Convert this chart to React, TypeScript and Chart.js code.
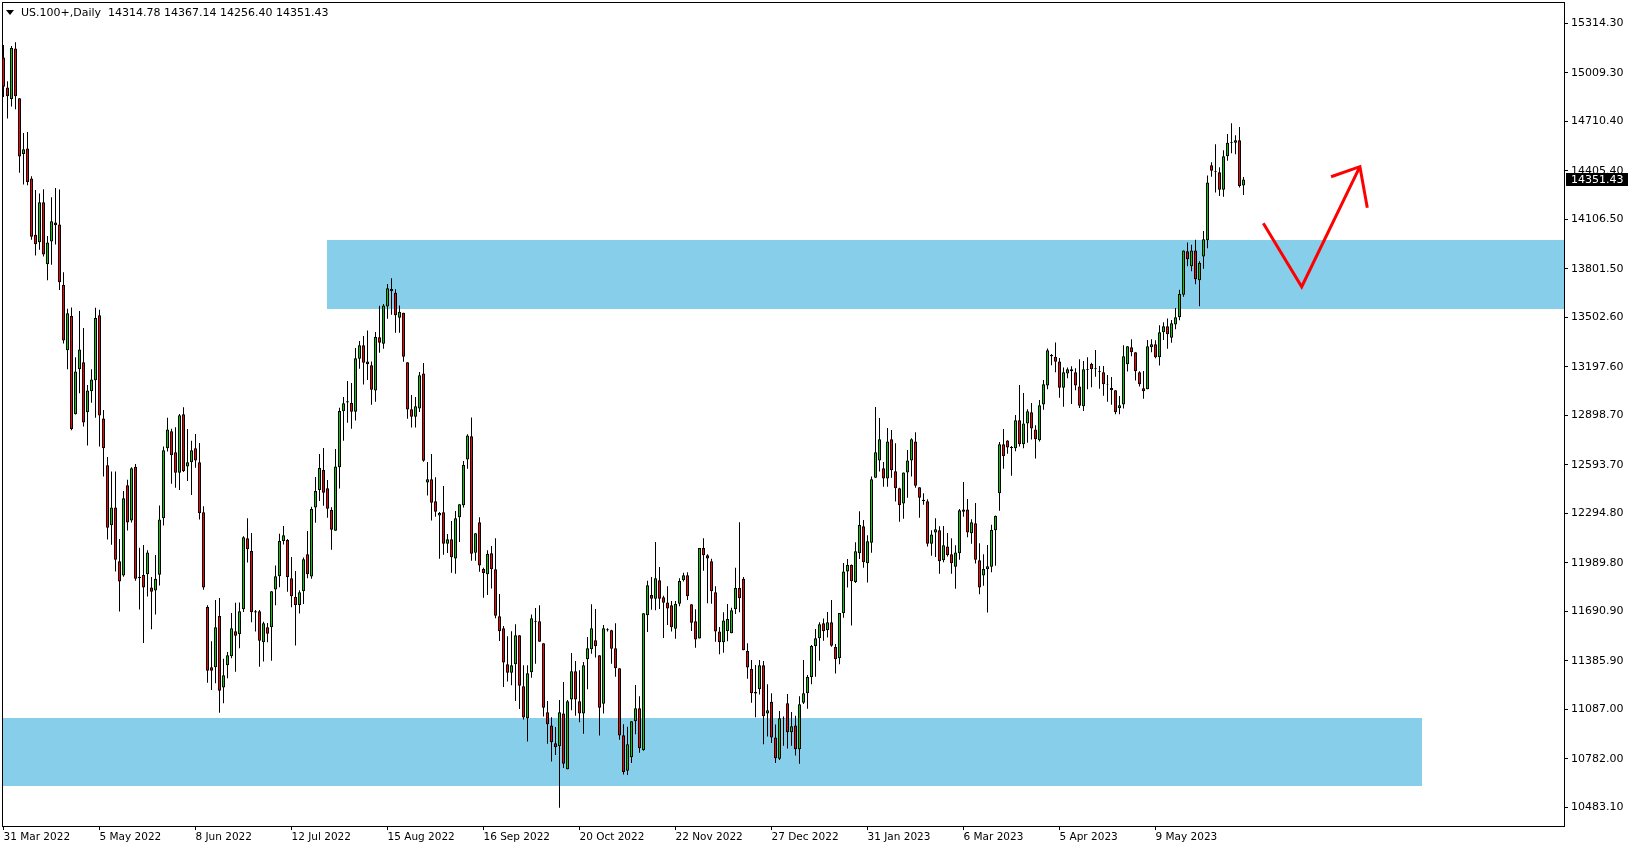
import React, { useEffect, useRef } from "react";
import { Chart, registerables } from "chart.js";

Chart.register(...registerables);

const symbolName = "US.100+,Daily";

const opens = [
  15103,14918,14848,15159,14852,14509,14543,14358,14012,13965,
  14212,13829,13970,14087,14075,13702,13300,13510,12906,13183,
  13225,12918,13047,13115,13515,12879,12591,12221,12330,11999,
  11911,12467,12250,12581,11894,11914,11919,11838,11819,11916,
  12264,12695,12800,12671,12545,12905,12584,12609,12695,12609,
  12301,11718,11346,11346,11662,11221,11358,11414,11568,11549,
  11703,12141,12063,11692,11691,11500,11592,11592,11826,11907,
  12124,12130,11894,11779,11730,11814,12042,11905,12330,12438,
  12562,12449,12315,12188,12578,12923,12985,12975,12921,13248,
  13330,13231,13207,13051,13379,13340,13570,13677,13654,13500,
  13531,13225,12936,12890,12940,13157,12484,12504,12369,12282,
  12301,12108,12135,12017,12270,12344,12627,12769,12052,12239,
  11952,11919,12048,11950,11660,11586,11364,11313,11364,11543,
  11229,11032,11315,11633,11629,11494,11069,10988,10878,10859,
  11062,10717,11147,11321,11136,11062,11395,11457,11512,11420,
  11122,11580,11574,11463,11340,10927,10709,10791,11013,11093,
  10836,11666,11792,11769,11882,11777,11746,11728,11584,11738,
  11882,11913,11734,11629,11524,12081,12036,11999,11808,11566,
  11500,11570,11555,11703,11835,11892,11446,11336,11194,11210,
  11358,11062,11134,10914,10783,11030,11124,10945,10988,10841,
  11128,11186,11286,11477,11525,11617,11574,11623,11471,11401,
  11681,11937,11976,11872,12048,12215,11987,12114,12514,12621,
  12572,12510,12751,12554,12449,12356,12547,12621,12738,12455,
  12378,12369,12108,12176,12190,12005,12091,12042,11966,12048,
  12305,12319,12172,12233,12005,11911,11950,11966,12190,12418,
  12720,12744,12703,12695,12868,12720,12849,12917,12812,12745,
  12966,13083,13270,13260,13231,13069,13157,13182,13164,13077,
  12954,13180,13215,13188,13170,13164,13092,13067,13053,12942,
  12966,13213,13318,13287,13164,13065,13059,13318,13336,13256,
  13410,13447,13377,13459,13503,13642,13909,13817,13915,13731,
  13878,13977,14439,14404,14396,14289,14495,14577,14579,14593,
  14314.78,
];

const highs = [
  15181,14957,15174,15198,14852,14638,14645,14372,14287,14265,
  14292,14004,14243,14299,14290,13780,13556,13563,13256,13541,
  13437,13086,13183,13561,13549,12932,12642,12552,12552,12136,
  12433,12501,12579,12599,12082,12099,12067,11902,12038,12343,
  12706,12884,12816,12825,12907,12948,12814,12742,12784,12728,
  12338,11728,11506,11761,11773,11399,11440,11681,11744,11746,
  12153,12264,12174,11699,11699,11627,11619,11814,11974,12169,
  12217,12137,12026,11939,11820,12022,12186,12336,12519,12660,
  12697,12500,12332,12691,12946,13012,13110,13098,13314,13357,
  13387,13422,13231,13412,13574,13585,13708,13743,13675,13576,
  13531,13225,13024,13012,13166,13221,12611,12660,12517,12303,
  12463,12167,12247,12309,12350,12617,12782,12886,12172,12270,
  11960,12067,12094,12141,11798,11601,11537,11568,11611,11543,
  11358,11358,11672,11711,11728,11494,11138,11038,10978,11145,
  11255,11144,11434,11385,11327,11379,11533,11734,11705,11420,
  11607,11586,11578,11617,11340,10995,10980,11013,11237,11167,
  11679,11880,11902,12118,11964,11787,11845,11755,11755,11894,
  11929,11931,11734,11703,12081,12141,12042,12015,11845,11594,
  11685,11736,11713,11960,12240,11902,11494,11391,11360,11391,
  11385,11241,11186,10993,11077,11042,11182,11071,11048,11167,
  11391,11299,11483,11582,11623,11646,11687,11761,11490,11681,
  11989,12013,11980,12116,12307,12254,12159,12521,12950,12882,
  12611,12821,12808,12726,12453,12547,12685,12757,12794,12455,
  12418,12381,12190,12264,12215,12217,12174,12141,12098,12321,
  12488,12383,12258,12358,12110,12042,12100,12225,12282,12734,
  12814,12745,12710,12901,13086,13036,12936,12975,12837,12993,
  13116,13311,13277,13348,13252,13194,13194,13201,13188,13244,
  13233,13256,13223,13301,13203,13203,13147,13135,13053,13018,
  13330,13324,13367,13287,13170,13172,13363,13367,13361,13453,
  13472,13496,13486,13560,13673,13915,13963,13950,13981,13848,
  14035,14376,14458,14569,14427,14532,14632,14698,14624,14675,
  14367.14,
];

const lows = [
  14860,14728,14801,14784,14394,14321,14316,13980,13883,13919,
  13878,13731,13827,13951,13671,13342,13183,12806,12903,13035,
  12830,12713,12976,12884,12706,12521,12133,12101,11936,11690,
  11904,12189,12238,11880,11702,11495,11782,11580,11672,11850,
  12219,12675,12477,12453,12438,12549,12494,12408,12576,12256,
  11824,11251,11206,11247,11066,11124,11278,11401,11319,11463,
  11687,11991,11623,11566,11350,11381,11500,11387,11728,11839,
  12102,11812,11716,11481,11677,11736,11894,11892,12237,12371,
  12342,12268,12071,12188,12447,12742,12853,12816,12866,13186,
  13088,13116,12964,12983,13285,13309,13494,13519,13408,13408,
  13229,12878,12823,12823,12919,12613,12404,12250,12274,12015,
  12040,12050,11929,11923,12118,12330,12570,12003,12003,11935,
  11775,11792,11831,11648,11508,11225,11258,11235,11138,11089,
  11025,10888,11282,11368,11504,11042,10875,10765,10806,10480,
  10726,10717,11081,11048,11007,10937,11210,11430,11407,10925,
  11062,11566,11368,11288,10900,10685,10682,10756,10933,10820,
  10832,11564,11701,11697,11705,11527,11607,11566,11522,11722,
  11874,11761,11570,11467,11524,11941,11740,11738,11504,11426,
  11436,11506,11555,11674,11685,11451,11276,11128,11038,11179,
  10871,10919,10880,10756,10775,10863,10845,10863,10802,10752,
  11120,11091,11241,11288,11387,11510,11529,11473,11307,11364,
  11652,11837,11603,11865,12013,11960,11868,12052,12514,12552,
  12459,12459,12514,12367,12243,12262,12391,12521,12453,12268,
  12348,12091,12034,12026,11923,11993,12028,11923,11830,12009,
  12274,12147,12108,11985,11796,11849,11683,11931,11972,12311,
  12570,12662,12527,12677,12706,12695,12730,12749,12632,12738,
  12933,13059,13207,13164,13007,12952,13127,12968,13053,12944,
  12925,13059,13071,13137,13063,13020,12983,12964,12905,12905,
  12940,13168,13262,13114,13077,13001,13059,13287,13250,13205,
  13363,13309,13346,13429,13484,13630,13817,13786,13706,13570,
  13802,13928,14369,14271,14250,14246,14468,14513,14507,14302,
  14256.40,
];

const closes = [
  14923,14865,15162,14865,14494,14538,14336,13999,13953,14212,
  13890,13963,14095,14070,13719,13359,13527,12815,13169,13305,
  12854,13052,13120,13498,12898,12696,12206,12330,12009,11875,
  12387,12238,12572,11892,11904,11838,12053,11811,11892,12257,
  12683,12812,12652,12545,12899,12554,12609,12683,12621,12295,
  11837,11325,11325,11592,11202,11297,11420,11586,11541,11691,
  12147,12073,11685,11684,11510,11617,11553,11814,11907,12124,
  12159,11902,11783,11730,11808,12011,11919,12321,12432,12574,
  12422,12323,12194,12584,12925,12973,12978,12921,13250,13330,
  13223,13213,13057,13381,13346,13576,13681,13663,13515,13537,
  13260,12934,12890,12954,13145,12619,12504,12360,12305,12297,
  12108,12135,12024,12264,12350,12593,12775,12046,12172,11974,
  11927,12046,11950,11664,11568,11375,11313,11358,11543,11233,
  11036,11309,11648,11626,11504,11097,10995,10884,10853,11069,
  10752,11136,11321,11147,11062,11358,11463,11586,11475,11097,
  11586,11574,11461,11340,10925,10700,10871,11013,11093,10847,
  11679,11851,11769,11894,11769,11744,11709,11592,11738,11878,
  11913,11783,11621,11518,12081,12036,12017,11814,11566,11500,
  11635,11644,11697,11835,11771,11451,11344,11186,11184,11358,
  11044,11081,10914,10785,11032,11034,10945,10982,10841,11118,
  11186,11286,11477,11525,11611,11568,11623,11479,11395,11681,
  11937,11976,11876,12061,12223,11993,12122,12504,12671,12751,
  12510,12738,12560,12449,12344,12547,12621,12751,12465,12391,
  12370,12108,12165,12196,11999,12098,12038,11987,12054,12313,
  12319,12176,12239,12009,11837,11952,11968,12192,12278,12720,
  12646,12701,12697,12868,12720,12849,12923,12818,12751,12960,
  13090,13299,13262,13229,13069,13164,13182,13170,13083,12958,
  13182,13184,13182,13182,13166,13090,13088,13053,12917,12960,
  13262,13324,13287,13170,13090,13047,13324,13336,13256,13410,
  13447,13398,13466,13503,13646,13915,13860,13915,13737,13839,
  13983,14334,14406,14400,14289,14495,14579,14581,14593,14312,
  14351.43,
];

// x-axis date labels, one every 24 bars starting at bar 0
const xTickLabels = [
  "31 Mar 2022", "5 May 2022", "8 Jun 2022", "12 Jul 2022", "15 Aug 2022",
  "16 Sep 2022", "20 Oct 2022", "22 Nov 2022", "27 Dec 2022", "31 Jan 2023",
  "6 Mar 2023", "5 Apr 2023", "9 May 2023",
];
const xTickEvery = 24;

const yTickValues = [
  15314.3, 15009.3, 14710.4, 14405.4, 14106.5, 13801.5, 13502.6, 13197.6,
  12898.7, 12593.7, 12294.8, 11989.8, 11690.9, 11385.9, 11087.0, 10782.0, 10483.1,
];

// Support/resistance zones: bar index range and price range
const zoneFrom = [80.9, -5];
const zoneTo = [400, 354.7];
const zoneTop = [13979, 11035];
const zoneBottom = [13556, 10616];

// Hand-drawn arrow (bar index, price)
const arrowX = [314.95, 324.55, 339.1];
const arrowY = [14082, 13691, 14431];
const arrowHeadX = [331.9, 339.1, 340.95];
const arrowHeadY = [14369, 14431, 14178];

const FONT = "'DejaVu Sans', sans-serif";
const BULL = "#00CC00";
const BEAR = "#FF0000";
const ZONE = "#87CEEB";

const overlayPlugin = {
  id: "mt4overlay",
  beforeDatasetsDraw(chart: any) {
    const { ctx, chartArea: a, scales } = chart;
    const x = scales.x, y = scales.y;
    ctx.save();
    ctx.beginPath();
    ctx.rect(a.left, a.top, a.right - a.left, a.bottom - a.top);
    ctx.clip();
    ctx.fillStyle = ZONE;
    for (let k = 0; k < zoneFrom.length; k++) {
      const x1 = Math.round(x.getPixelForValue(zoneFrom[k]));
      const x2 = Math.round(x.getPixelForValue(zoneTo[k]));
      const y1 = Math.round(y.getPixelForValue(zoneTop[k]));
      const y2 = Math.round(y.getPixelForValue(zoneBottom[k]));
      ctx.fillRect(x1, y1, x2 - x1, y2 - y1);
    }
    ctx.restore();
  },
  afterDatasetsDraw(chart: any) {
    const { ctx, chartArea: a, scales } = chart;
    const x = scales.x, y = scales.y;
    ctx.save();
    ctx.beginPath();
    ctx.rect(a.left, a.top, a.right - a.left, a.bottom - a.top);
    ctx.clip();
    ctx.strokeStyle = "#FF0000";
    ctx.lineWidth = 3;
    ctx.lineJoin = "miter";
    ctx.lineCap = "butt";
    ctx.beginPath();
    arrowX.forEach((v, i) => {
      const px = x.getPixelForValue(v), py = y.getPixelForValue(arrowY[i]);
      if (i === 0) ctx.moveTo(px, py); else ctx.lineTo(px, py);
    });
    ctx.stroke();
    ctx.beginPath();
    arrowHeadX.forEach((v, i) => {
      const px = x.getPixelForValue(v), py = y.getPixelForValue(arrowHeadY[i]);
      if (i === 0) ctx.moveTo(px, py); else ctx.lineTo(px, py);
    });
    ctx.stroke();
    ctx.restore();
  },
  afterDraw(chart: any) {
    const { ctx, chartArea: a, scales } = chart;
    const y = scales.y;
    ctx.save();
    // frame
    ctx.strokeStyle = "#000";
    ctx.lineWidth = 1;
    ctx.strokeRect(a.left + 0.5, a.top + 0.5, a.right - a.left, a.bottom - a.top);
    // header
    ctx.fillStyle = "#000";
    ctx.beginPath();
    ctx.moveTo(6, 10);
    ctx.lineTo(14, 10);
    ctx.lineTo(10, 15);
    ctx.closePath();
    ctx.fill();
    const n = closes.length - 1;
    const header =
      symbolName + "  " + opens[n].toFixed(2) + " " + highs[n].toFixed(2) + " " +
      lows[n].toFixed(2) + " " + closes[n].toFixed(2);
    ctx.font = "11px " + FONT;
    ctx.textBaseline = "middle";
    ctx.textAlign = "left";
    ctx.fillText(header, 21, 13.5);
    // current price box
    const py = Math.round(y.getPixelForValue(closes[n]));
    ctx.fillStyle = "#000";
    ctx.fillRect(a.right + 2, py - 7, 62, 13);
    ctx.fillStyle = "#fff";
    ctx.fillText(closes[n].toFixed(2), a.right + 7, py);
    ctx.restore();
  },
};

export default function App() {
  const ref = useRef<HTMLCanvasElement>(null);

  useEffect(() => {
    const idx = closes.map((_, i) => i);
    const bodyData = idx.map((i) => ({ x: i, y: [opens[i], closes[i]] }));
    const wickData = idx.map((i) => ({ x: i, y: [lows[i], highs[i]] }));
    const bodyColors = idx.map((i) => (closes[i] >= opens[i] ? BULL : BEAR));

    const chart = new Chart(ref.current as HTMLCanvasElement, {
      type: "bar",
      data: {
        datasets: [
          {
            data: bodyData as any,
            backgroundColor: bodyColors,
            borderColor: "#000",
            borderWidth: 1,
            borderSkipped: false,
            barThickness: 3,
            grouped: false,
            inflateAmount: 0,
            order: 0,
          } as any,
          {
            data: wickData as any,
            backgroundColor: "#000",
            borderWidth: 0,
            barThickness: 1,
            grouped: false,
            inflateAmount: 0,
            order: 1,
          } as any,
        ],
      },
      options: {
        animation: false,
        responsive: false,
        maintainAspectRatio: false,
        events: [],
        layout: { padding: { left: 2, top: 2, right: 0, bottom: 0 } },
        plugins: {
          legend: { display: false },
          tooltip: { enabled: false },
          title: { display: false },
        },
        scales: {
          x: {
            type: "linear",
            min: -0.375,
            max: 390.125,
            offset: false,
            grid: {
              offset: false,
              display: true,
              drawOnChartArea: false,
              drawTicks: true,
              tickLength: 4,
              color: "#000",
            },
            border: { display: false },
            ticks: {
              autoSkip: false,
              maxRotation: 0,
              minRotation: 0,
              align: "start",
              padding: 1,
              color: "#000",
              font: { family: FONT, size: 10.5 },
              callback: (v: any) => xTickLabels[Math.round(Number(v) / xTickEvery)] ?? "",
            },
            afterBuildTicks: (s: any) => {
              s.ticks = xTickLabels.map((_, k) => ({ value: k * xTickEvery }));
            },
            afterFit: (s: any) => {
              s.height = 24;
              s.paddingLeft = 0;
              s.paddingRight = 0;
            },
          },
          y: {
            type: "linear",
            position: "right",
            min: 10368,
            max: 15445.6,
            beginAtZero: false,
            grid: {
              display: true,
              drawOnChartArea: false,
              drawTicks: true,
              tickLength: 4,
              color: "#000",
            },
            border: { display: false },
            ticks: {
              padding: 3,
              color: "#000",
              font: { family: FONT, size: 11 },
              callback: (v: any) => Number(v).toFixed(2),
            },
            afterBuildTicks: (s: any) => {
              s.ticks = yTickValues.map((v) => ({ value: v }));
            },
            afterFit: (s: any) => {
              s.width = 71;
              s.paddingTop = 0;
              s.paddingBottom = 0;
            },
          },
        },
      } as any,
      plugins: [overlayPlugin],
    });
    return () => chart.destroy();
  }, []);

  return (
    <div
      style={{
        position: "fixed",
        left: 0,
        top: 0,
        width: 1635,
        height: 850,
        background: "#fff",
      }}
    >
      <canvas
        ref={ref}
        width={1635}
        height={850}
        style={{ display: "block", width: 1635, height: 850 }}
      />
    </div>
  );
}
